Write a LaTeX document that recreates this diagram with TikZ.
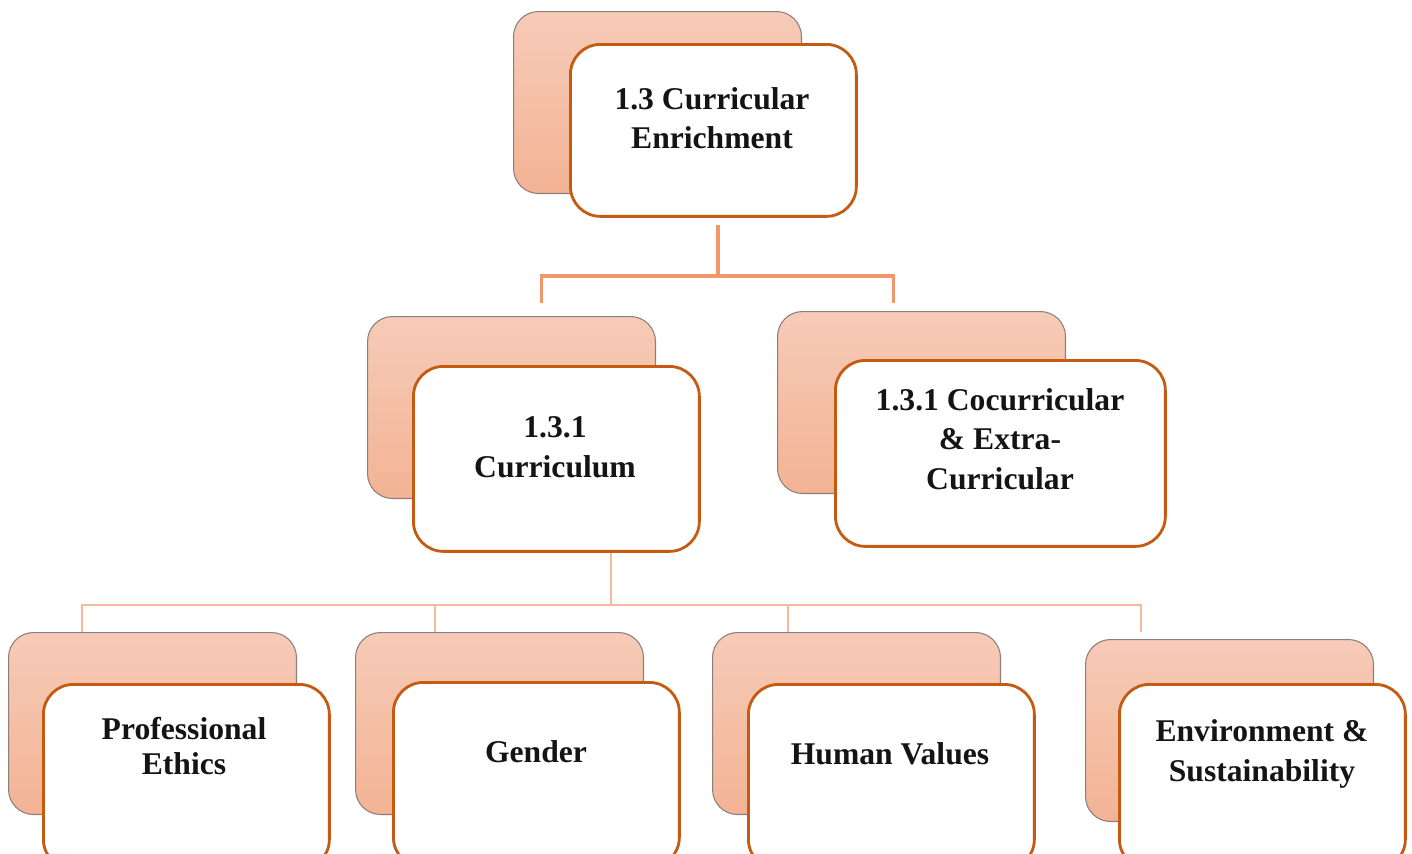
\documentclass[tikz,border=0pt]{standalone}
\usepackage{fontspec}
\setmainfont{Liberation Serif}
\usetikzlibrary{calc}

\definecolor{boxedge}{HTML}{C55A11}
\definecolor{backedge}{HTML}{8C7F7A}
\definecolor{peachtop}{HTML}{F6CBB8}
\definecolor{peachbot}{HTML}{F3B394}
\definecolor{linktop}{HTML}{F0976B}
\definecolor{linkbot}{HTML}{F7B9A1}

\tikzset{
	backbox/.style={draw=backedge, line width=0.6pt, rounded corners=0.5cm, top color=peachtop, bottom color=peachbot, minimum width=5.76cm, minimum height=3.64cm, anchor=north west, inner sep=0pt},
	frontbox/.style={draw=boxedge, line width=1.6pt, fill=white, rounded corners=0.6cm, minimum width=5.72cm, minimum height=3.44cm, anchor=north west, inner sep=0pt},
	boxtext/.style={font=\bfseries\fontsize{18}{22.5}\selectfont, align=center, text=black!92, inner sep=0pt},
	linkA/.style={draw=linktop, line width=2pt},
	linkB/.style={draw=linkbot, line width=1.5pt}
}

\begin{document}
\begin{tikzpicture}[x=0.02cm, y=-0.02cm]
	\useasboundingbox (0,0) rectangle (1412,853);
	\clip (0,0) rectangle (1412,853);

	\node[backbox] (topback) at (513,11) {};
	\node[frontbox] (top) at (569,43) {};
	\node[boxtext] (top-t) at (712,118) {1.3 Curricular\\Enrichment};

	\node[backbox] (currback) at (367,316) {};
	\node[frontbox, minimum height=3.7cm] (curr) at (412,365) {};
	\node[boxtext] (curr-t) at (555,447) {1.3.1\\Curriculum};

	\node[backbox] (cocurrback) at (777,311) {};
	\node[frontbox, minimum width=6.6cm, minimum height=3.72cm] (cocurr) at (834,359) {};
	\node[boxtext] (cocurr-t) at (1000,439) {1.3.1 Cocurricular\\\& Extra-\\Curricular};

	\foreach \bx/\by/\fx/\fy/\tx/\ty/\lx/\name/\txt in {
		8/632/42/683/184/746/82/ethics/{Professional\\[-3pt]Ethics},
		355/632/392/681/536/752/435/gender/{Gender},
		712/632/747/683/890/754/788/values/{Human Values},
		1085/639/1118/683/1262/754/1141/envir/{Environment \&\\Sustainability}}
	{
		\node[backbox] (\name-back) at (\bx,\by) {};
		\node[frontbox, minimum height=3.7cm] (\name) at (\fx,\fy) {};
		\node[boxtext] (\name-t) at (\tx,\ty) {\txt};
		\coordinate (\name-foot) at (\lx,632);
	}

	\coordinate (hub1) at (718,276);
	\coordinate (curr-foot) at ($(currback.north)+(30,-13)$);
	\coordinate (cocurr-foot) at ($(cocurrback.north)+(-28,-8)$);
	\draw[linkA] ([yshift=-4pt]hub1 |- top.south) -- (hub1);
	\draw[linkA] (curr-foot) |- (hub1) -| (cocurr-foot);

	\coordinate (hub2) at (611,605);
	\draw[linkB] (hub2 |- curr.south) -- (hub2);
	\draw[linkB] (ethics-foot) |- (hub2) -| (envir-foot);
	\draw[linkB] (gender-foot) -- (gender-foot |- hub2);
	\draw[linkB] (values-foot) -- (values-foot |- hub2);
\end{tikzpicture}
\end{document}
